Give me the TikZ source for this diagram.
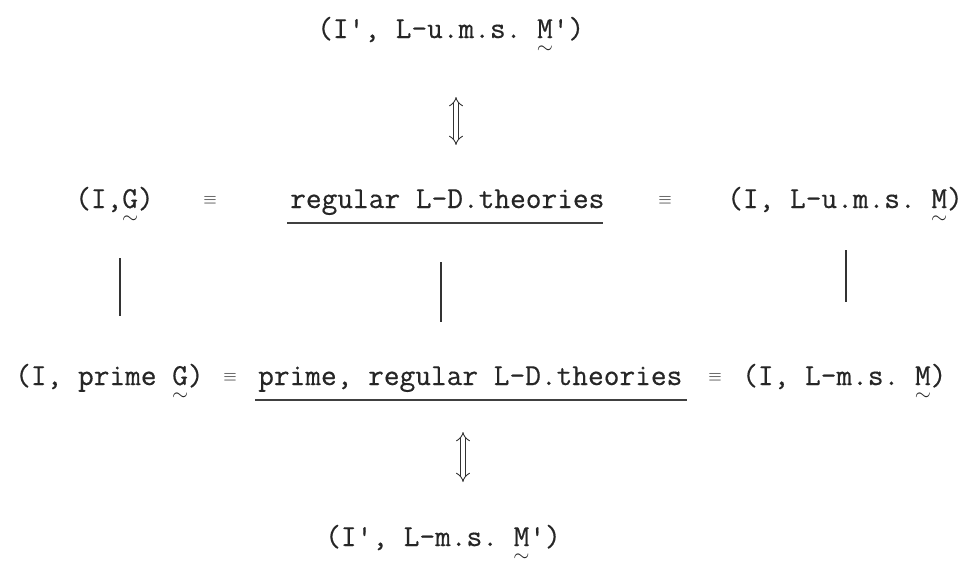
\documentclass[tikz,border=0pt]{standalone}
\usepackage{fontspec}
\setmonofont[FakeBold=0.5]{Latin Modern Mono}
\usetikzlibrary{arrows.meta}
\newsavebox\utlbox
\newcommand\utl[1]{\sbox\utlbox{#1}\leavevmode\rlap{\usebox\utlbox}\makebox[\wd\utlbox]{\raisebox{-15pt}{\fontsize{20}{20}\selectfont$\sim$}}}
\tikzset{
  tw/.style={font=\ttfamily\fontsize{30.5}{34}\selectfont, inner sep=0pt, anchor=base west, text=black!85},
  eqv/.style={font=\fontsize{17}{17}\selectfont, inner sep=0pt, anchor=center, text=black!85},
  bar/.style={line width=1.4pt, draw=black!80},
  uline/.style={line width=1.3pt, draw=black!75},
  dbl/.style={draw=black!80, double=white, double distance=4pt, line width=0.9pt, {Implies[scale=1.4]}-{Implies[scale=1.4]}},
}
\begin{document}
\begin{tikzpicture}[x=1pt,y=-1pt]
\useasboundingbox (0,0) rectangle (976,560);
% top
\node[tw] (top) at (317,38) {(I', L-u.m.s. \utl{M}')};
% row 2
\node[tw] (ig) at (75,208) {(I,\utl{G})};
\node[eqv] (e1) at (210,200) {$\equiv$};
\node[tw] (reg) at (290,208) {regular L-D.theories};
\node[eqv] (e2) at (665,200) {$\equiv$};
\node[tw] (ium) at (727,208) {(I, L-u.m.s. \utl{M})};
\draw[uline] ([xshift=-3pt,yshift=-15pt]reg.base west) -- ([xshift=-2pt,yshift=-15pt]reg.base east);
% row 3
\node[tw] (ipg) at (15,385) {(I, prime \utl{G})};
\node[eqv] (e3) at (230,377) {$\equiv$};
\node[tw] (preg) at (258,385) {prime, regular L-D.theories};
\node[eqv] (e4) at (715,377) {$\equiv$};
\node[tw] (ims) at (742,385) {(I, L-m.s. \utl{M})};
\draw[uline] ([xshift=-3pt,yshift=-15pt]preg.base west) -- ([xshift=4pt,yshift=-15pt]preg.base east);
% bottom
\node[tw] (bot) at (325,546) {(I', L-m.s. \utl{M}')};
% vertical bars
\coordinate (l1t) at (120,258); \coordinate (l1b) at (120,316);
\coordinate (l2t) at (441,262); \coordinate (l2b) at (441,322);
\coordinate (l3t) at (846,250); \coordinate (l3b) at (846,302);
\draw[bar] (l1t) -- (l1b);
\draw[bar] (l2t) -- (l2b);
\draw[bar] (l3t) -- (l3b);
% double arrows
\coordinate (a1t) at (456,97); \coordinate (a1b) at (456,145);
\coordinate (a2t) at (463,432); \coordinate (a2b) at (463,482);
\draw[dbl] (a1t) -- (a1b);
\draw[dbl] (a2t) -- (a2b);
\end{tikzpicture}
\end{document}
